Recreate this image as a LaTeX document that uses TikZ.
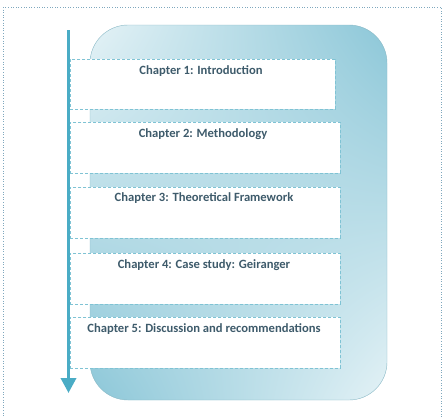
\documentclass[tikz,border=0pt]{standalone}
\usepackage{fontspec}
\setmainfont{Carlito}
\usetikzlibrary{arrows.meta,shadings}
\definecolor{arrowc}{HTML}{4AACC5}
\definecolor{boxline}{HTML}{7FC3D4}
\definecolor{txtc}{HTML}{3E5B6B}
\definecolor{shdark}{HTML}{8CC7D8}
\definecolor{shlight}{HTML}{E4F2F6}
\definecolor{framec}{HTML}{7FA8BE}
\tikzset{
  chapbox/.style={draw=boxline, dashed, dash pattern=on 3pt off 2pt, line width=0.8pt, fill=white},
  chaptext/.style={text=txtc, font=\fontsize{12.6}{14}\selectfont\bfseries, anchor=center},
}
\begin{document}
\begin{tikzpicture}[x=1pt,y=-1pt]
\useasboundingbox (0,0) rectangle (444,416);
\draw[framec, dotted, line width=0.6pt] (3,7) rectangle (441,422);
% big rounded panel
\shade[upper left=shlight, upper right=shdark, lower left=shdark, lower right=shlight, rounded corners=38pt]
  (90,25) rectangle (387,400);
\draw[draw=shdark!80!gray, line width=0.4pt, rounded corners=38pt] (90,25) rectangle (387,400);
% boxes
\node[chapbox, minimum width=265pt, minimum height=50pt, anchor=north west] (b1) at (70,59) {};
\node[chapbox, minimum width=270pt, minimum height=51pt, anchor=north west] (b2) at (70,122) {};
\node[chapbox, minimum width=270pt, minimum height=51pt, anchor=north west] (b3) at (70,187) {};
\node[chapbox, minimum width=270pt, minimum height=51pt, anchor=north west] (b4) at (70,253) {};
\node[chapbox, minimum width=270pt, minimum height=51pt, anchor=north west] (b5) at (70,317) {};
\node[chaptext] (t1) at (201,71) {Chapter 1: Introduction};
\node[chaptext] (t2) at (203,134) {Chapter 2: Methodology};
\node[chaptext] (t3) at (204,198) {Chapter 3: Theoretical Framework};
\node[chaptext] (t4) at (204,265) {Chapter 4: Case study: Geiranger};
\node[chaptext] (t5) at (204,329) {Chapter 5: Discussion and recommendations};
% arrow
\coordinate (as) at (68.5,30);
\coordinate (ae) at (68.5,393);
\draw[arrowc, line width=3.5pt, -{Triangle[width=15pt,length=15pt]}] (as) -- (ae);
\end{tikzpicture}
\end{document}
